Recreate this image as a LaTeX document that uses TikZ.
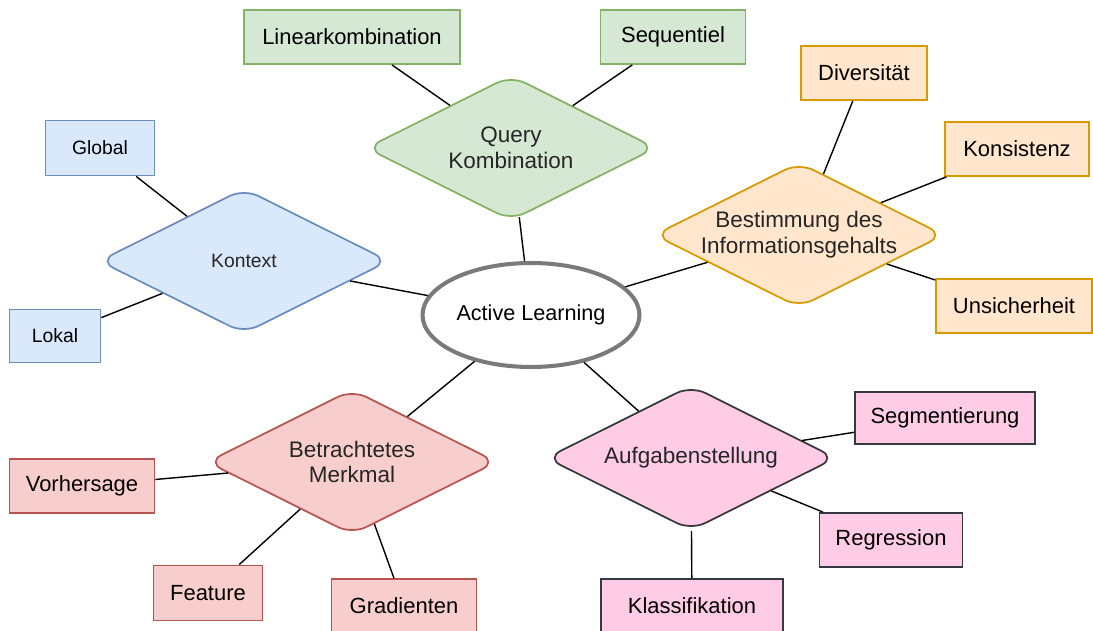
\documentclass[tikz,border=0pt]{standalone}
\usepackage{fontspec}
\setmainfont{Liberation Sans}
\usepackage{xcolor}
\definecolor{albluebg}{HTML}{DAE8FC}
\definecolor{albluedr}{HTML}{6C8EBF}
\definecolor{algreenbg}{HTML}{D5E8D4}
\definecolor{algreendr}{HTML}{82B366}
\definecolor{alorangebg}{HTML}{FFE6CC}
\definecolor{alorangedr}{HTML}{D79B00}
\definecolor{alredbg}{HTML}{F8CECC}
\definecolor{alreddr}{HTML}{B85450}
\definecolor{alpinkbg}{HTML}{FFCCE6}
\definecolor{alpinkdr}{HTML}{36393D}
\usetikzlibrary{shapes.geometric}
\tikzset{
  albox/.style={draw,line width=1pt,inner sep=0pt,align=center,font=\fontsize{12.5}{15}\selectfont,minimum height=1.08cm},
  alsmall/.style={font=\fontsize{11}{13}\selectfont},
  aldia/.style={diamond,aspect=2,draw,line width=1pt,rounded corners=9pt,inner xsep=-20pt,inner ysep=-10pt,align=center,font=\fontsize{12.8}{14.7}\selectfont,text=black!85,minimum width=5.8cm,minimum height=2.9cm},
  alcore/.style={ellipse,draw=black!52,line width=2.3pt,fill=white,inner sep=0pt,minimum width=4.34cm,minimum height=2.08cm,font=\fontsize{12.3}{15}\selectfont},
  alblue/.style={fill=albluebg,draw=albluedr},
  algreen/.style={fill=algreenbg,draw=algreendr},
  alorange/.style={fill=alorangebg,draw=alorangedr},
  alred/.style={fill=alredbg,draw=alreddr},
  alpink/.style={fill=alpinkbg,draw=alpinkdr},
  alline/.style={line width=0.8pt},
}
\begin{document}
\begin{tikzpicture}[x=0.02cm,y=-0.02cm]
\useasboundingbox (0,0) rectangle (1093,631);
% centre
\node[alcore] (al) at (531,315) {Active Learning};
% query kombination
\node[aldia,algreen] (qk) at (511,148) {Query\\Kombination};
\node[albox,algreen,minimum width=4.32cm] (lin) at (352,37) {Linearkombination};
\node[albox,algreen,minimum width=2.90cm] (seq) at (673,37) {Sequentiel};
% kontext
\node[aldia,alblue,alsmall] (ktx) at (244,261) {Kontext};
\node[albox,alblue,alsmall,minimum width=2.18cm,minimum height=1.10cm] (glob) at (100,148) {Global};
\node[albox,alblue,alsmall,minimum width=1.82cm,minimum height=1.06cm] (lok) at (55,336) {Lokal};
% informationsgehalt
\node[aldia,alorange] (inf) at (799,235) {Bestimmung des\\Informationsgehalts};
\node[albox,alorange,minimum width=2.52cm] (div) at (864,73) {Diversität};
\node[albox,alorange,minimum width=2.88cm] (kon) at (1017,149) {Konsistenz};
\node[albox,alorange,minimum width=3.12cm] (uns) at (1014,306) {Unsicherheit};
% merkmal
\node[aldia,alred] (mm) at (352,462) {Betrachtetes\\Merkmal};
\node[albox,alred,minimum width=2.90cm] (vor) at (82,486) {Vorhersage};
\node[albox,alred,minimum width=2.18cm,minimum height=1.10cm] (feat) at (208,593) {Feature};
\node[albox,alred,minimum width=2.90cm] (grad) at (404,606) {Gradienten};
% aufgabenstellung
\node[aldia,alpink] (auf) at (691,458) {Aufgabenstellung};
\node[albox,alpink,minimum width=3.60cm,minimum height=1.04cm] (seg) at (945,418) {Segmentierung};
\node[albox,alpink,minimum width=2.86cm] (reg) at (891,540) {Regression};
\node[albox,alpink,minimum width=3.64cm] (kla) at (692,606) {Klassifikation};
% connectors
\draw[alline] (qk)--(al);\draw[alline] (lin)--(qk);\draw[alline] (seq)--(qk);
\draw[alline] (ktx)--(al);\draw[alline] (glob)--(ktx);\draw[alline] (lok)--(ktx);
\draw[alline] (inf)--(al);\draw[alline] (div)--(inf);\draw[alline] (kon)--(inf);\draw[alline] (uns)--(inf);
\draw[alline] (mm)--(al);\draw[alline] (vor)--(mm);\draw[alline] (feat)--(mm);\draw[alline] (grad)--(mm);
\draw[alline] (auf)--(al);\draw[alline] (seg)--(auf);\draw[alline] (reg)--(auf);\draw[alline] (kla)--(auf);
\end{tikzpicture}
\end{document}
